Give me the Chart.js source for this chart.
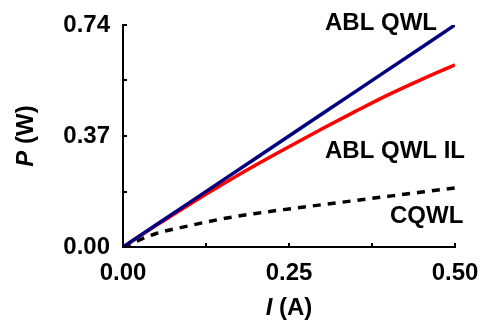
<!DOCTYPE html>
<html>
<head>
<meta charset="utf-8">
<script src="https://cdn.jsdelivr.net/npm/chart.js@4/dist/chart.umd.min.js"></script>
<style>
  html, body { margin: 0; padding: 0; background: #fff; }
  #wrap { width: 481px; height: 324px; }
</style>
</head>
<body>
<div id="wrap"><canvas id="chart"></canvas></div>
<script>
// current (A) and power (W)
const currents = [0, 0.05, 0.10, 0.15, 0.20, 0.25, 0.30, 0.35, 0.40, 0.45, 0.50];
const ablQwl   = [0, 0.074, 0.148, 0.222, 0.296, 0.370, 0.444, 0.518, 0.592, 0.666, 0.740];
const ablQwlIl = [0, 0.072, 0.142, 0.209, 0.273, 0.334, 0.394, 0.452, 0.508, 0.559, 0.607];
const cqwl     = [0, 0.045, 0.071, 0.094, 0.112, 0.127, 0.141, 0.155, 0.169, 0.183, 0.197];

const xTicks = [0, 0.25, 0.5];
const yTicks = [0, 0.37, 0.74];
const xMinor = [0.125, 0.375];
const yMinor = [0.185, 0.555];

const labels = [
    { text: 'ABL QWL', x: 325, y: 30 },
    { text: 'ABL QWL IL', x: 325, y: 158 },
    { text: 'CQWL', x: 390, y: 223 }
];

const toPoints = (ys) => currents.map((x, i) => ({ x: x, y: ys[i] }));
const FONT = "'Liberation Sans', Arial, sans-serif";

// inward ticks, curve labels and axis titles with italic symbols
const decorations = {
    id: 'decorations',
    afterDraw(chart) {
        const ctx = chart.ctx;
        const xs = chart.scales.x, ys = chart.scales.y;
        const area = chart.chartArea;
        ctx.save();
        ctx.strokeStyle = '#000';
        ctx.lineWidth = 2;
        ctx.beginPath();
        xTicks.concat(xMinor).forEach(v => {
            const px = Math.round(xs.getPixelForValue(v));
            ctx.moveTo(px, area.bottom);
            ctx.lineTo(px, area.bottom - 4);
        });
        yTicks.concat(yMinor).forEach(v => {
            const py = Math.round(ys.getPixelForValue(v));
            ctx.moveTo(area.left, py);
            ctx.lineTo(area.left + 4, py);
        });
        ctx.stroke();

        ctx.fillStyle = '#000';
        ctx.font = 'bold 24px ' + FONT;
        ctx.textAlign = 'left';
        ctx.textBaseline = 'alphabetic';
        labels.forEach(l => ctx.fillText(l.text, l.x, l.y));

        const drawTitle = (sym, rest) => {
            ctx.font = 'italic bold 24px ' + FONT;
            const w1 = ctx.measureText(sym).width;
            ctx.font = 'bold 24px ' + FONT;
            const w2 = ctx.measureText(rest).width;
            const start = -(w1 + w2) / 2;
            ctx.font = 'italic bold 24px ' + FONT;
            ctx.fillText(sym, start, 0);
            ctx.font = 'bold 24px ' + FONT;
            ctx.fillText(rest, start + w1, 0);
        };
        ctx.save();
        ctx.translate((area.left + area.right) / 2, 315);
        drawTitle('I', ' (A)');
        ctx.restore();

        ctx.save();
        ctx.translate(33, (area.top + area.bottom) / 2);
        ctx.rotate(-Math.PI / 2);
        drawTitle('P', ' (W)');
        ctx.restore();
        ctx.restore();
    }
};

new Chart(document.getElementById('chart').getContext('2d'), {
    type: 'line',
    data: {
        datasets: [{
            label: 'ABL QWL',
            data: toPoints(ablQwl),
            borderColor: '#00007f',
            borderWidth: 3.5,
            pointRadius: 0,
            tension: 0
        }, {
            label: 'ABL QWL IL',
            data: toPoints(ablQwlIl),
            borderColor: '#ff0000',
            borderWidth: 3.5,
            pointRadius: 0,
            cubicInterpolationMode: 'monotone'
        }, {
            label: 'CQWL',
            data: toPoints(cqwl),
            borderColor: '#000000',
            borderWidth: 3.5,
            borderDash: [8, 7],
            pointRadius: 0,
            cubicInterpolationMode: 'monotone'
        }]
    },
    options: {
        responsive: true,
        maintainAspectRatio: false,
        animation: false,
        layout: { padding: { left: 0, top: 25, right: 26, bottom: 0 } },
        plugins: {
            legend: { display: false },
            tooltip: { enabled: false }
        },
        scales: {
            x: {
                type: 'linear',
                min: 0,
                max: 0.5,
                afterBuildTicks: (s) => { s.ticks = xTicks.map(v => ({ value: v })); },
                afterFit: (s) => { s.height = 77; s.paddingLeft = 0; s.paddingRight = 0; },
                grid: { drawOnChartArea: false, drawTicks: false },
                border: { display: true, color: '#000', width: 2 },
                ticks: {
                    padding: 12,
                    color: '#000',
                    maxRotation: 0,
                    font: { size: 24, weight: 'bold', family: FONT },
                    callback: (v) => Number(v).toFixed(2)
                }
            },
            y: {
                type: 'linear',
                min: 0,
                max: 0.74,
                afterBuildTicks: (s) => { s.ticks = yTicks.map(v => ({ value: v })); },
                afterFit: (s) => { s.width = 123; s.paddingTop = 0; s.paddingBottom = 0; },
                grid: { drawOnChartArea: false, drawTicks: false },
                border: { display: true, color: '#000', width: 2 },
                ticks: {
                    padding: 13,
                    color: '#000',
                    font: { size: 24, weight: 'bold', family: FONT },
                    callback: (v) => Number(v).toFixed(2)
                }
            }
        }
    },
    plugins: [decorations]
});
</script>
</body>
</html>
